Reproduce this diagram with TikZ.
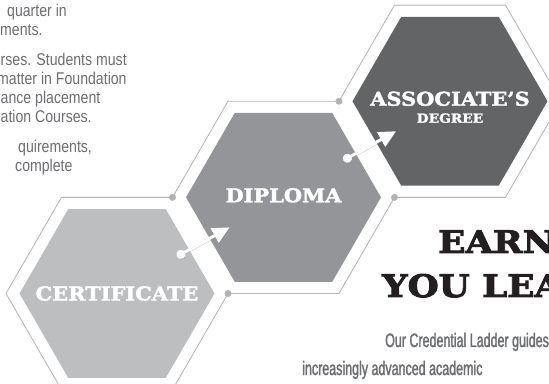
\documentclass[tikz,border=0pt]{standalone}
\usepackage{fontspec}
\usepackage{xcolor}
\usepackage{tikz}
\usetikzlibrary{arrows.meta,shapes.geometric}

\newfontfamily\slabfont[FakeStretch=1.1, FakeBold=2]{DejaVu Serif Bold}
\newfontfamily\headfont[FakeStretch=1.15, FakeBold=3]{DejaVu Serif Bold}
\newfontfamily\condfont[FakeStretch=0.64, FakeBold=1.6]{Liberation Sans}
\newfontfamily\bodyfont[FakeStretch=0.83]{Liberation Sans}

\definecolor{certgray}{HTML}{BCBEC0}
\definecolor{diplgray}{HTML}{939598}
\definecolor{assocgray}{HTML}{636466}
\definecolor{rimgray}{HTML}{B1B3B6}
\definecolor{textgray}{HTML}{6D6E71}
\definecolor{inkblack}{HTML}{231F20}

\begin{document}
\begin{tikzpicture}[
    x=1pt, y=1pt,
    hexagon/.style={regular polygon, regular polygon sides=6, minimum size=195pt, inner sep=0pt, outer sep=0pt},
    steplabel/.style={inner sep=0pt, text=white, align=center, font=\slabfont\fontsize{19}{21}\selectfont},
    rim/.style={draw=rimgray, line width=0.8pt},
    joint/.style={circle, fill=rimgray, minimum size=7pt, inner sep=0pt},
    ladder/.style={white, line width=3pt, {Circle[length=9pt]}-{Triangle[length=17pt,width=16pt]},
        preaction={draw=black!45, opacity=0.45, transform canvas={shift={(1pt,-2pt)}}}},
    blurb/.style={anchor=base west, inner sep=0pt, text=textgray, font=\bodyfont\fontsize{17}{19}\selectfont}
]
\useasboundingbox (0,0) rectangle (549,383);
\clip (0,0) rectangle (549,383);

% Intro text, cut at the left edge
\node[blurb] (l1) at (7,366.3) {quarter in};
\node[blurb] (l2) at (0,347.5) {ments.};
\node[blurb] (l3) at (0.5,317.3) {rses. Students must};
\node[blurb] (l4) at (-3,298.3) {matter in Foundation};
\node[blurb] (l5) at (0.5,279.3) {ance placement};
\node[blurb] (l6) at (0.5,260.3) {ation Courses.};
\node[blurb] (l7) at (18,230) {quirements,};
\node[blurb] (l8) at (15,211) {complete};

% Ladder hexagons
\node[hexagon, fill=certgray] (cert) at (117,89.5) {};
\node[hexagon, fill=diplgray] (dipl) at ([shift={(30:192.25pt)}]cert.center) {};
\node[hexagon, fill=assocgray] (assoc) at ([shift={(30:192.25pt)}]dipl.center) {};

\node[steplabel] (cert-text) at (cert.center) {CERTIFICATE};
\node[steplabel] (dipl-text) at ([yshift=2pt]dipl.center) {DIPLOMA};
\node[steplabel] (assoc-text) at ([yshift=-6pt]assoc.center)
    {ASSOCIATE’S\\[-4pt]{\fontsize{12.5}{14}\selectfont DEGREE}};

% Rims - shared edges stay open
\draw[rim, shift={(cert.center)}] (60:111pt) -- (120:111pt) -- (180:111pt) -- (240:111pt) -- (300:111pt) -- (0:111pt);
\draw[rim, shift={(dipl.center)}] (240:111pt) -- (300:111pt) -- (0:111pt);
\draw[rim, shift={(dipl.center)}] (60:111pt) -- (120:111pt) -- (180:111pt);
\draw[rim, shift={(assoc.center)}] (240:111pt) -- (300:111pt) -- (0:111pt) -- (60:111pt) -- (120:111pt) -- (180:111pt);

\foreach \a in {0,60} {
    \node[joint] (cert-\a) at ([shift={(\a:111pt)}]cert.center) {};
    \node[joint] (dipl-\a) at ([shift={(\a:111pt)}]dipl.center) {};
}

% Step arrows
\coordinate (cert-out) at ([shift={(60,37)}]cert.center);
\coordinate (dipl-in) at ([shift={(-54,-30)}]dipl.center);
\coordinate (dipl-out) at ([shift={(60,37)}]dipl.center);
\coordinate (assoc-in) at ([shift={(-54,-30)}]assoc.center);
\draw[ladder] (cert-out) -- (dipl-in);
\draw[ladder] (dipl-out) -- (assoc-in);

% Heading and tagline
\node[anchor=base west, inner sep=0pt, text=inkblack, font=\headfont\fontsize{31}{33}\selectfont] (earn) at (438,130) {EARN};
\node[anchor=base west, inner sep=0pt, text=inkblack, font=\headfont\fontsize{31}{33}\selectfont] (learn) at (382,86) {YOU LEA};
\node[anchor=base west, inner sep=0pt, text=textgray, font=\condfont\fontsize{19.5}{22}\selectfont] (tag1) at (385,36) {Our Credential Ladder guides};
\node[anchor=base west, inner sep=0pt, text=textgray, font=\condfont\fontsize{19.5}{22}\selectfont] (tag2) at (302,8) {increasingly advanced academic};

\end{tikzpicture}
\end{document}
